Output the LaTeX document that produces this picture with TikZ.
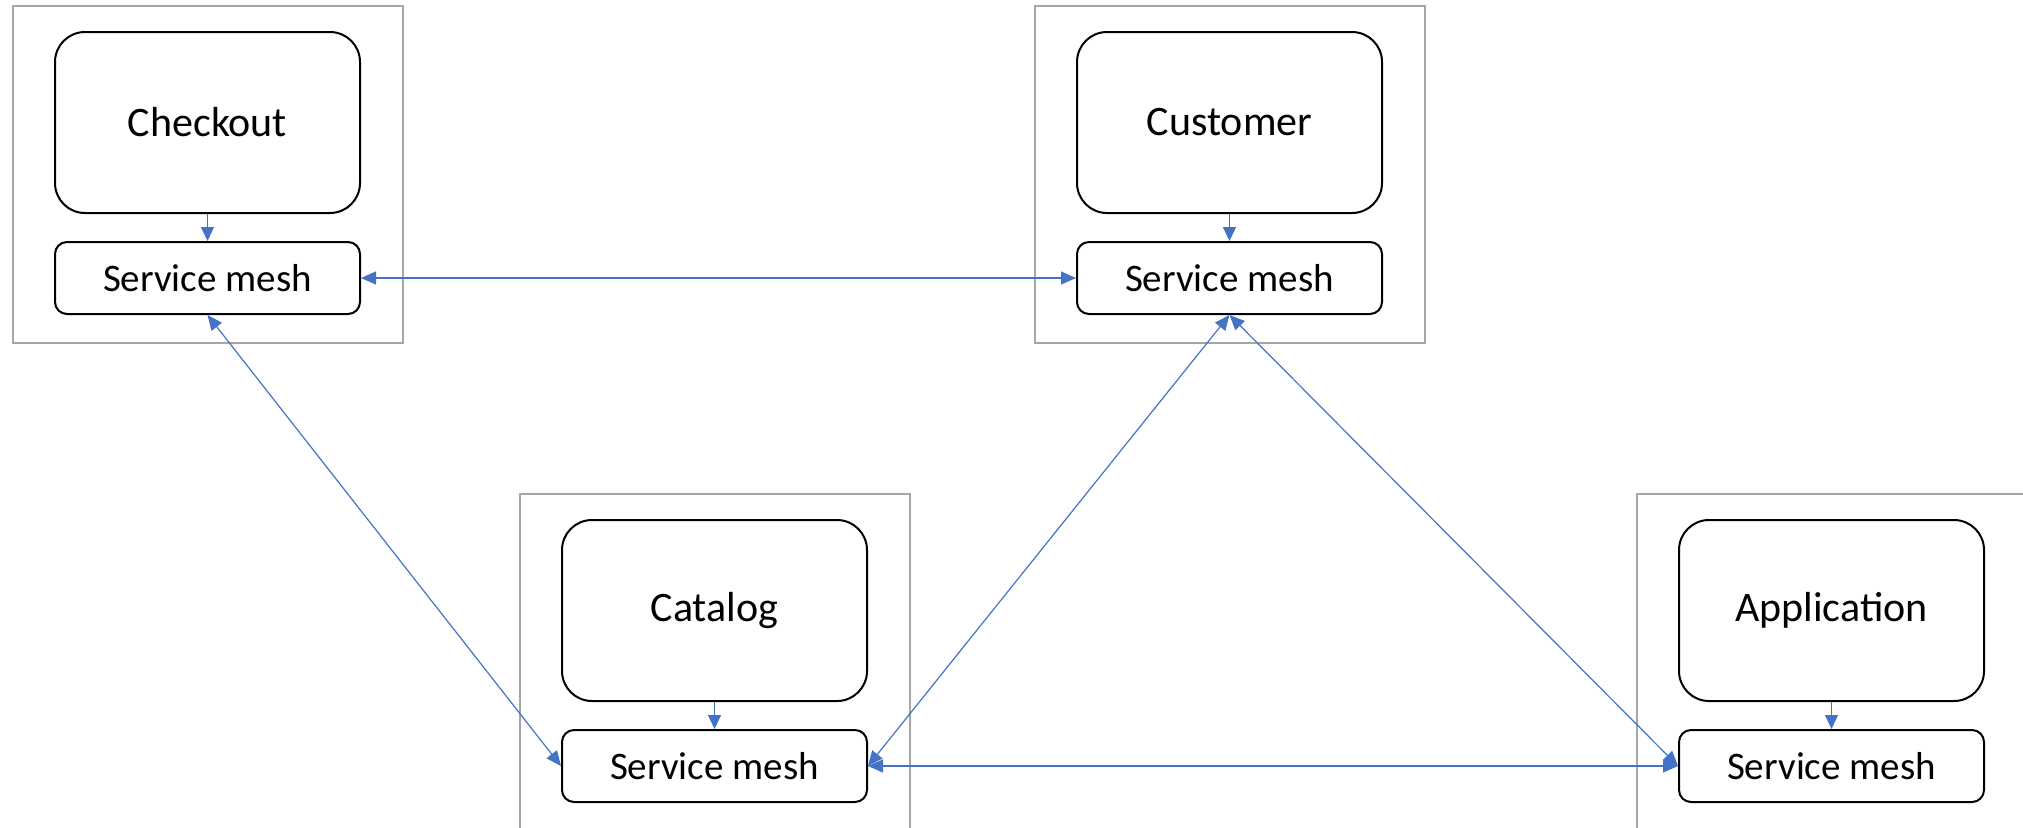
\documentclass[tikz,border=0pt]{standalone}
\usepackage{fontspec}
\setmainfont{Carlito}
\usetikzlibrary{arrows.meta}
\definecolor{linkblue}{HTML}{4472C4}
\definecolor{hostgray}{HTML}{A6A6A6}
\tikzset{
	host/.style = {draw=hostgray, line width=1pt, anchor=north west,
		minimum width=195pt, minimum height=168.5pt, inner sep=0pt},
	svc/.style = {draw, line width=1pt, rounded corners=15pt, anchor=north west,
		minimum width=152.5pt, minimum height=90.5pt, inner sep=0pt,
		font=\fontsize{21}{25}\selectfont},
	mesh/.style = {draw, line width=1pt, rounded corners=6pt, anchor=north west,
		minimum width=152.5pt, minimum height=36pt, inner sep=0pt,
		font=\fontsize{19.5}{23}\selectfont},
	link/.style = {draw=linkblue, line width=0.6pt,
		{Triangle[length=7.5pt,width=6.5pt]}-{Triangle[length=7.5pt,width=6.5pt]}},
	feed/.style = {draw=linkblue, line width=0.6pt,
		-{Triangle[length=7pt,width=6.5pt]}}
}

\begin{document}
\begin{tikzpicture}[x=0.5pt, y=-0.5pt]
\useasboundingbox (0,0) rectangle (2023,827);
\begin{scope}[shift={(12,5)}]
\node[host] (chkhost) at (0,0) {};
\node[svc] (chk) at (42,26) {Checkout};
\node[mesh] (chkm) at (42,236) {Service mesh};
\draw[feed] (chk) to (chkm);
\end{scope}
\begin{scope}[shift={(1034,5)}]
\node[host] (cushost) at (0,0) {};
\node[svc] (cus) at (42,26) {Customer};
\node[mesh] (cusm) at (42,236) {Service mesh};
\draw[feed] (cus) to (cusm);
\end{scope}
\begin{scope}[shift={(519,493)}]
\node[host] (cathost) at (0,0) {};
\node[svc] (cat) at (42,26) {Catalog};
\node[mesh] (catm) at (42,236) {Service mesh};
\draw[feed] (cat) to (catm);
\end{scope}
\begin{scope}[shift={(1636,493)}]
\node[host] (apphost) at (0,0) {};
\node[svc] (app) at (42,26) {Application};
\node[mesh] (appm) at (42,236) {Service mesh};
\draw[feed] (app) to (appm);
\end{scope}

\draw[link] (chkm.east) to (cusm.west);
\draw[link] (chkm.south) to (catm.west);
\draw[link] (cusm.south) to (catm.east);
\draw[link] (cusm.south) to (appm.west);
\draw[link] (catm.east) to (appm.west);
\end{tikzpicture}
\end{document}
